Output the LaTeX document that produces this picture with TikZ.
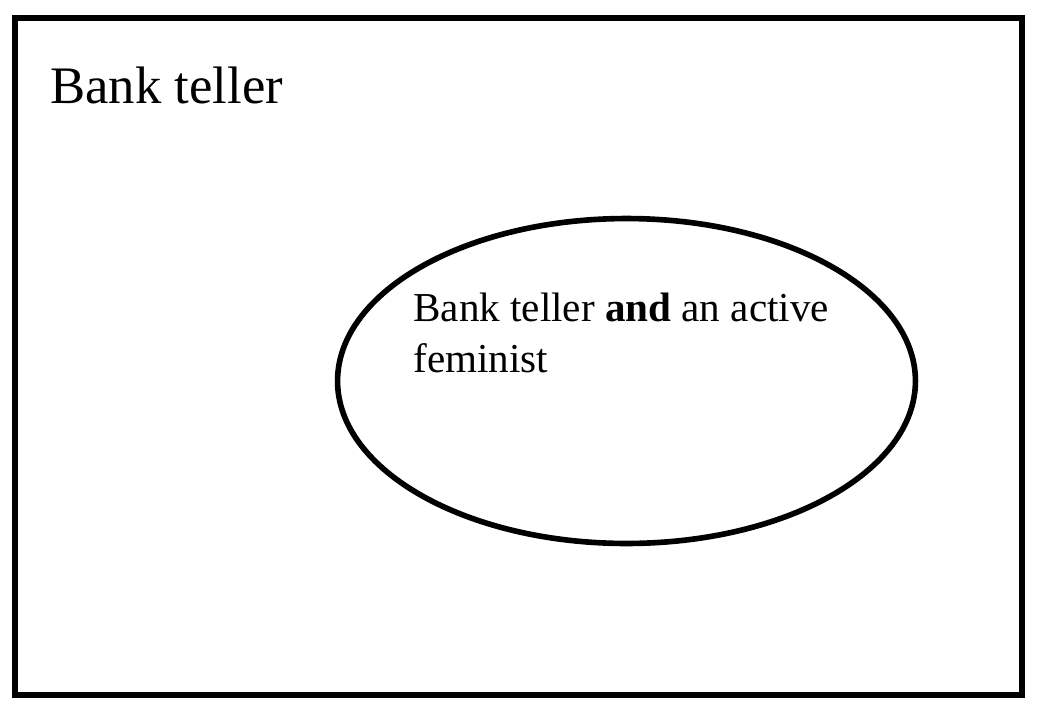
\documentclass[tikz,border=0pt]{standalone}
\usepackage{fontspec}
\setmainfont{Liberation Serif}
\usepackage{tikz}
\usetikzlibrary{shapes.geometric,positioning}
\tikzset{
  frameline/.style={line width=3.4pt,draw=black},
  setline/.style={draw=black,line width=3.2pt,ellipse,minimum width=11.56cm,minimum height=6.5cm,inner sep=0pt},
  bigtitle/.style={font=\fontsize{30}{36}\selectfont,inner sep=0pt},
  settext/.style={font=\fontsize{23.4}{28.6}\selectfont,align=left,inner sep=0pt}
}
\begin{document}
\begin{tikzpicture}[x=0.02cm,y=-0.02cm]
  \useasboundingbox (0,0) rectangle (1038,714);
  \draw[frameline] (15,18) rectangle (1022,695);
  \node[setline] (subset) at (626.5,381) {};
  \node[bigtitle,anchor=base west] (teller) at (50,103) {Bank teller};
  % base anchor sits on the last line
  \node[settext,anchor=base west] (both) at (413,372) {Bank teller \textbf{and} an active\\feminist};
\end{tikzpicture}
\end{document}
